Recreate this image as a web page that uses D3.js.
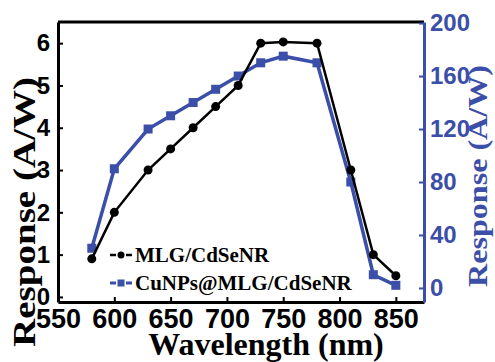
<!DOCTYPE html>
<html>
<head>
<meta charset="utf-8">
<script src="https://cdn.jsdelivr.net/npm/d3@7"></script>
<style>
  body { margin: 0; background: #fff; }
  svg { display: block; font-family: "Liberation Serif", "Times New Roman", serif; font-weight: bold; }
</style>
</head>
<body>
<div id="chart"></div>
<script>
// data
var wavelength = [580, 600, 630, 650, 670, 690, 710, 730, 750, 780, 810, 830, 850];
var mlg = [0.9, 2.0, 3.0, 3.5, 4.0, 4.5, 5.0, 6.0, 6.03, 6.0, 3.0, 1.0, 0.5];
var cunps = [30, 90, 120, 130, 140, 150, 160, 170, 175, 170, 80, 10, 2];
var xTickValues = [550, 600, 650, 700, 750, 800, 850];
var yLeftTicks = [0, 1, 2, 3, 4, 5, 6];
var yRightTicks = [0, 40, 80, 120, 160, 200];
var seriesNames = ["MLG/CdSeNR", "CuNPs@MLG/CdSeNR"];

var W = 495, H = 362
    , margin = {top: 22, right: 71, bottom: 60, left: 58}
    , width = W - margin.left - margin.right
    , height = H - margin.top - margin.bottom
    , blue = "#3b4ea8"
    ;

var svg = d3.select("#chart").append("svg")
    .attr("width", W)
    .attr("height", H);

var g = svg.append("g").attr("transform", "translate(" + margin.left + "," + margin.top + ")");

var x = d3.scaleLinear().domain([550, 875]).range([0, width]);
var yL = d3.scaleLinear().domain([-0.12, 6.5]).range([height, 0]);
var yR = d3.scaleLinear().domain([-10.6, 200.8]).range([height, 0]);

var xAxis = d3.axisBottom(x)
    .tickValues(xTickValues)
    .tickSizeInner(-5)
    .tickSizeOuter(0)
    .tickPadding(7)
    .tickFormat(d3.format("d"));

var yAxisL = d3.axisLeft(yL)
    .tickValues(yLeftTicks)
    .tickSizeInner(-5)
    .tickSizeOuter(0)
    .tickPadding(8)
    .tickFormat(d3.format("d"));

var yAxisR = d3.axisRight(yR)
    .tickValues(yRightTicks)
    .tickSizeInner(-5)
    .tickSizeOuter(0)
    .tickPadding(6)
    .tickFormat(d3.format("d"));

// top frame line
g.append("line")
    .attr("x1", 0).attr("x2", width)
    .attr("y1", 0).attr("y2", 0)
    .attr("stroke", "#000")
    .attr("stroke-width", 3);

var gx = g.append("g")
    .attr("transform", "translate(0," + height + ")")
    .call(xAxis);
gx.selectAll("text").attr("font-size", 27).attr("fill", "#000");

var gl = g.append("g").call(yAxisL);
gl.selectAll("text").attr("font-size", 24).attr("fill", "#000");

var gr = g.append("g")
    .attr("transform", "translate(" + width + ",0)")
    .call(yAxisR);
gr.selectAll("text").attr("font-size", 24).attr("fill", blue);

[gx, gl].forEach(function(a) {
    a.select(".domain").attr("stroke", "#000").attr("stroke-width", 3);
    a.selectAll(".tick line").attr("stroke", "#000").attr("stroke-width", 2);
});
gr.select(".domain").attr("stroke", blue).attr("stroke-width", 3);
gr.selectAll(".tick line").attr("stroke", blue).attr("stroke-width", 2);
gx.select(".domain").raise();

// series
var lineL = d3.line().x(function(d, i) { return x(wavelength[i]); }).y(function(d) { return yL(d); });
var lineR = d3.line().x(function(d, i) { return x(wavelength[i]); }).y(function(d) { return yR(d); });

g.append("path")
    .attr("d", lineR(cunps))
    .attr("fill", "none")
    .attr("stroke", blue)
    .attr("stroke-width", 3.5);

g.append("g").selectAll("rect")
    .data(cunps)
    .enter()
    .append("rect")
    .attr("x", function(d, i) { return x(wavelength[i]) - 4.5; })
    .attr("y", function(d) { return yR(d) - 4.5; })
    .attr("width", 9)
    .attr("height", 9)
    .attr("fill", blue);

g.append("path")
    .attr("d", lineL(mlg))
    .attr("fill", "none")
    .attr("stroke", "#000")
    .attr("stroke-width", 2.5);

g.append("g").selectAll("circle")
    .data(mlg)
    .enter()
    .append("circle")
    .attr("r", 4.5)
    .attr("cx", function(d, i) { return x(wavelength[i]); })
    .attr("cy", function(d) { return yL(d); })
    .attr("fill", "#000");

// legend
var legend = svg.append("g").attr("transform", "translate(110,255)");
seriesNames.forEach(function(name, i) {
    var row = legend.append("g").attr("transform", "translate(0," + (i * 28) + ")");
    var c = i ? blue : "#000";
    row.append("line")
        .attr("x1", 0).attr("x2", 22)
        .attr("stroke", c)
        .attr("stroke-width", i ? 3 : 2.5)
        .attr("stroke-dasharray", "6,2,6,2");
    if (i) {
        row.append("rect").attr("x", 7.5).attr("y", -3.5).attr("width", 7).attr("height", 7).attr("fill", c);
    } else {
        row.append("circle").attr("cx", 11).attr("r", 3.5).attr("fill", c);
    }
    row.append("text")
        .attr("x", 25)
        .attr("y", 7)
        .attr("font-size", 21)
        .attr("fill", "#000")
        .text(name);
});

// axis titles
svg.append("text")
    .attr("x", 266)
    .attr("y", 355)
    .attr("text-anchor", "middle")
    .attr("font-size", 32)
    .attr("fill", "#000")
    .text("Wavelength (nm)");

svg.append("text")
    .attr("transform", "translate(35,212) rotate(-90)")
    .attr("text-anchor", "middle")
    .attr("font-size", 31)
    .attr("textLength", 270)
    .attr("lengthAdjust", "spacingAndGlyphs")
    .attr("fill", "#000")
    .text("Response (A/W)");

svg.append("text")
    .attr("transform", "translate(487,176) rotate(-90)")
    .attr("text-anchor", "middle")
    .attr("font-size", 27)
    .attr("textLength", 222)
    .attr("lengthAdjust", "spacingAndGlyphs")
    .attr("fill", blue)
    .text("Response (A/W)");
</script>
</body>
</html>
